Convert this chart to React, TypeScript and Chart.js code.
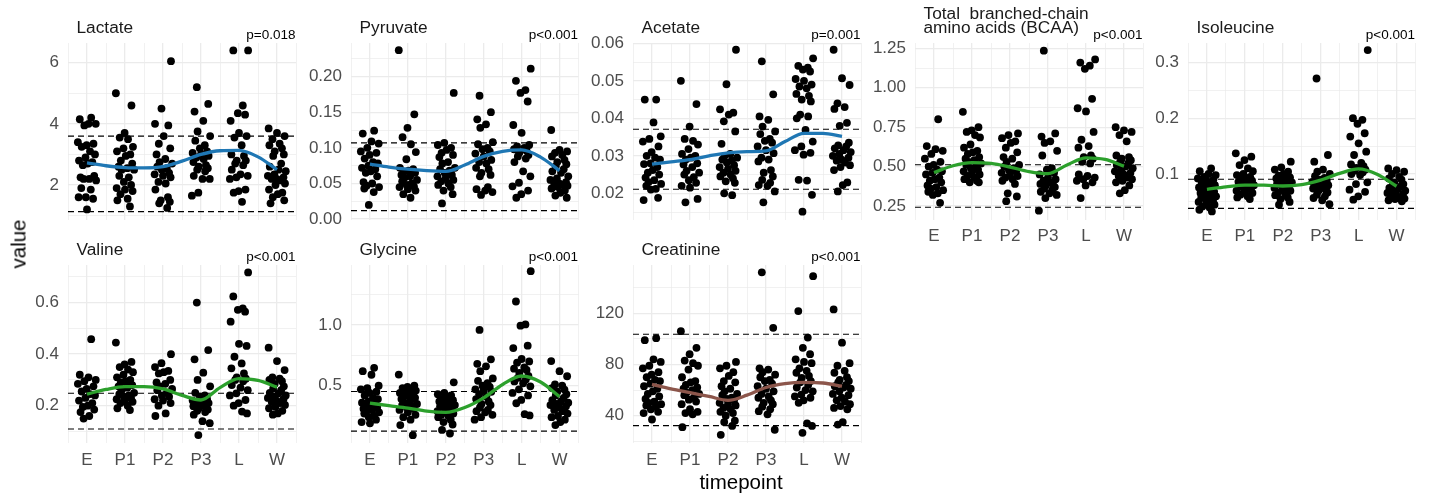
import React, { useEffect, useRef } from "react";
import { Chart, registerables } from "chart.js";
Chart.register(...registerables);

const FONT = '"Liberation Sans", Arial, Helvetica, sans-serif';
const BLUE = "#1f77b4";
const GREEN = "#2ca02c";
const BROWN = "#8c564b";

const TIMEPOINTS = ["E", "P1", "P2", "P3", "L", "W"];
const SMOOTH_X = [1, 1.5, 2, 2.5, 3, 3.5, 4, 4.5, 5, 5.5, 6];
const X_GRID = [0.5, 1, 1.5, 2, 2.5, 3, 3.5, 4, 4.5, 5, 5.5, 6, 6.5];
const JITTER = [0.11, -0.19, 0.04, 0.23, -0.07, -0.24, 0.17, -0.01, -0.14, 0.08, 0.21, -0.04, -0.21, 0.14, 0.02, -0.11, 0.19, -0.17, 0.06, -0.09, 0.24, -0.15, 0.1, -0.03, 0.16, -0.22, 0.0, 0.2, -0.12, 0.07, -0.2, 0.13, -0.06, 0.18, -0.1];

// ---------- Lactate ----------
const LACTATE_VALUES = [
  [4.2, 4.15, 4.0, 4.0, 3.95, 3.4, 3.35, 3.3, 3.25, 3.1, 3.0, 2.9, 2.8, 2.75, 2.7, 2.65, 2.3, 2.25, 2.2, 2.2, 2.15, 1.9, 1.85, 1.6, 1.55, 1.6, 1.2],
  [5.0, 4.6, 3.7, 3.55, 3.5, 3.25, 3.2, 3.1, 3.0, 2.95, 2.8, 2.7, 2.6, 2.55, 2.5, 2.5, 2.3, 2.25, 2.1, 2.0, 1.9, 1.85, 1.8, 1.7, 1.55, 1.5, 1.3],
  [6.05, 4.5, 4.0, 3.95, 3.6, 3.35, 3.2, 3.0, 2.85, 2.75, 2.7, 2.6, 2.55, 2.5, 2.4, 2.35, 2.3, 2.25, 2.1, 2.05, 1.85, 1.6, 1.5, 1.45, 1.4, 1.25],
  [5.2, 4.65, 4.4, 4.1, 3.75, 3.6, 3.45, 3.3, 3.2, 3.1, 3.05, 3.0, 2.95, 2.9, 2.85, 2.75, 2.65, 2.6, 2.55, 2.5, 2.45, 2.3, 2.2, 2.2, 1.75, 1.65],
  [6.4, 6.4, 4.6, 4.35, 4.3, 4.1, 3.7, 3.6, 3.55, 3.3, 3.0, 2.95, 2.8, 2.8, 2.7, 2.65, 2.5, 2.35, 2.3, 2.25, 2.2, 1.85, 1.8, 1.75, 1.45],
  [3.85, 3.7, 3.6, 3.5, 3.35, 3.3, 3.2, 3.1, 3.0, 2.95, 2.7, 2.6, 2.5, 2.45, 2.35, 2.3, 2.25, 2.2, 2.2, 2.15, 2.05, 2.0, 1.85, 1.75, 1.7, 1.6, 1.5, 1.4],
];
const LACTATE_SMOOTH = [2.72, 2.63, 2.57, 2.56, 2.6, 2.78, 3.0, 3.12, 3.13, 2.92, 2.5];
const LACTATE_REF = [3.6, 1.13];
const LACTATE_TICKS = [2, 4, 6];
const LACTATE_TICK_LABELS = ["2", "4", "6"];
const LACTATE_MINOR = [1, 3, 5];

// ---------- Pyruvate ----------
const PYRUVATE_VALUES = [
  [0.124, 0.12, 0.109, 0.106, 0.1, 0.095, 0.093, 0.09, 0.085, 0.08, 0.078, 0.075, 0.072, 0.07, 0.067, 0.065, 0.06, 0.052, 0.05, 0.047, 0.045, 0.043, 0.038, 0.02],
  [0.237, 0.147, 0.128, 0.115, 0.105, 0.094, 0.084, 0.072, 0.07, 0.068, 0.066, 0.065, 0.062, 0.06, 0.058, 0.055, 0.053, 0.05, 0.048, 0.046, 0.045, 0.042, 0.04, 0.035, 0.03],
  [0.177, 0.107, 0.104, 0.1, 0.097, 0.093, 0.09, 0.087, 0.08, 0.078, 0.072, 0.07, 0.068, 0.065, 0.062, 0.06, 0.058, 0.055, 0.053, 0.05, 0.048, 0.045, 0.04, 0.035, 0.022],
  [0.173, 0.15, 0.14, 0.133, 0.128, 0.108, 0.105, 0.1, 0.098, 0.095, 0.092, 0.088, 0.083, 0.08, 0.078, 0.072, 0.07, 0.065, 0.062, 0.06, 0.045, 0.042, 0.04, 0.038, 0.034],
  [0.211, 0.194, 0.181, 0.177, 0.165, 0.132, 0.121, 0.104, 0.102, 0.1, 0.098, 0.096, 0.093, 0.09, 0.088, 0.085, 0.08, 0.067, 0.06, 0.051, 0.046, 0.04, 0.035, 0.03],
  [0.125, 0.097, 0.095, 0.093, 0.09, 0.088, 0.083, 0.08, 0.077, 0.074, 0.07, 0.067, 0.065, 0.06, 0.057, 0.055, 0.052, 0.05, 0.05, 0.048, 0.047, 0.045, 0.043, 0.04, 0.037, 0.033, 0.03],
];
const PYRUVATE_SMOOTH = [0.077, 0.073, 0.07, 0.068, 0.067, 0.076, 0.088, 0.095, 0.097, 0.087, 0.068];
const PYRUVATE_REF = [0.107, 0.012];
const PYRUVATE_TICKS = [0, 0.05, 0.1, 0.15, 0.2];
const PYRUVATE_TICK_LABELS = ["0.00", "0.05", "0.10", "0.15", "0.20"];
const PYRUVATE_MINOR = [0.025, 0.075, 0.125, 0.175, 0.225];

// ---------- Acetate ----------
const ACETATE_VALUES = [
  [0.045, 0.045, 0.0389, 0.0352, 0.0345, 0.0338, 0.0325, 0.031, 0.03, 0.0295, 0.029, 0.028, 0.0278, 0.027, 0.0262, 0.0255, 0.025, 0.0242, 0.0235, 0.023, 0.0225, 0.022, 0.0212, 0.021, 0.0188, 0.0182],
  [0.05, 0.0438, 0.0378, 0.0345, 0.034, 0.033, 0.0318, 0.0305, 0.03, 0.0295, 0.029, 0.028, 0.0277, 0.027, 0.026, 0.0255, 0.025, 0.0243, 0.0235, 0.0228, 0.022, 0.0215, 0.0185, 0.0176],
  [0.0583, 0.0491, 0.0424, 0.0415, 0.041, 0.0392, 0.0365, 0.0332, 0.0305, 0.03, 0.0295, 0.029, 0.0288, 0.0282, 0.0275, 0.027, 0.0265, 0.026, 0.0255, 0.025, 0.0245, 0.024, 0.0232, 0.0228, 0.02, 0.0195],
  [0.0552, 0.0464, 0.0405, 0.0396, 0.0378, 0.0365, 0.0358, 0.0345, 0.034, 0.0335, 0.0325, 0.0315, 0.0307, 0.0295, 0.029, 0.0285, 0.0262, 0.0255, 0.0245, 0.0236, 0.0228, 0.0222, 0.022, 0.0205, 0.0176],
  [0.056, 0.054, 0.0535, 0.053, 0.0525, 0.0505, 0.05, 0.049, 0.0485, 0.048, 0.0465, 0.046, 0.045, 0.0445, 0.041, 0.0405, 0.04, 0.0369, 0.0338, 0.0325, 0.0315, 0.0308, 0.0303, 0.0236, 0.0234, 0.0196, 0.0151],
  [0.0583, 0.0507, 0.0489, 0.044, 0.043, 0.0425, 0.0388, 0.038, 0.0335, 0.0328, 0.0325, 0.032, 0.0315, 0.031, 0.0305, 0.03, 0.0295, 0.029, 0.0287, 0.0282, 0.0275, 0.027, 0.0262, 0.0229, 0.0222, 0.0205],
];
const ACETATE_SMOOTH = [0.0278, 0.0284, 0.029, 0.03, 0.0308, 0.0311, 0.0313, 0.0338, 0.036, 0.036, 0.0352];
const ACETATE_REF = [0.0371, 0.0211];
const ACETATE_TICKS = [0.02, 0.03, 0.04, 0.05, 0.06];
const ACETATE_TICK_LABELS = ["0.02", "0.03", "0.04", "0.05", "0.06"];
const ACETATE_MINOR = [0.015, 0.025, 0.035, 0.045, 0.055];

// ---------- BCAA ----------
const BCAA_VALUES = [
  [0.8, 0.63, 0.61, 0.6, 0.58, 0.55, 0.53, 0.51, 0.5, 0.48, 0.47, 0.46, 0.45, 0.43, 0.42, 0.41, 0.4, 0.38, 0.37, 0.36, 0.35, 0.34, 0.33, 0.32, 0.27],
  [0.847, 0.75, 0.73, 0.72, 0.7, 0.685, 0.64, 0.62, 0.6, 0.59, 0.58, 0.56, 0.55, 0.54, 0.53, 0.52, 0.51, 0.5, 0.49, 0.48, 0.47, 0.46, 0.45, 0.44, 0.43, 0.42, 0.41, 0.4, 0.4],
  [0.71, 0.7, 0.68, 0.66, 0.65, 0.62, 0.59, 0.56, 0.55, 0.53, 0.51, 0.5, 0.49, 0.48, 0.47, 0.46, 0.45, 0.44, 0.43, 0.42, 0.41, 0.39, 0.33, 0.31, 0.28],
  [1.235, 0.71, 0.69, 0.66, 0.65, 0.6, 0.57, 0.49, 0.48, 0.46, 0.45, 0.43, 0.42, 0.41, 0.4, 0.39, 0.385, 0.38, 0.37, 0.36, 0.35, 0.34, 0.33, 0.32, 0.3, 0.22],
  [1.18, 1.16, 1.14, 1.12, 0.93, 0.87, 0.85, 0.72, 0.67, 0.63, 0.62, 0.57, 0.56, 0.55, 0.53, 0.52, 0.45, 0.44, 0.43, 0.42, 0.41, 0.4, 0.38, 0.3],
  [0.75, 0.73, 0.72, 0.7, 0.66, 0.57, 0.56, 0.55, 0.54, 0.53, 0.52, 0.51, 0.5, 0.49, 0.48, 0.47, 0.46, 0.45, 0.44, 0.43, 0.42, 0.41, 0.4, 0.38, 0.35, 0.33],
];
const BCAA_SMOOTH = [0.462, 0.505, 0.525, 0.52, 0.497, 0.468, 0.455, 0.51, 0.555, 0.545, 0.503];
const BCAA_REF = [0.511, 0.242];
const BCAA_TICKS = [0.25, 0.5, 0.75, 1.0, 1.25];
const BCAA_TICK_LABELS = ["0.25", "0.50", "0.75", "1.00", "1.25"];
const BCAA_MINOR = [0.375, 0.625, 0.875, 1.125];

// ---------- Isoleucine ----------
const ISOLEUCINE_VALUES = [
  [0.11, 0.105, 0.1, 0.098, 0.095, 0.092, 0.09, 0.088, 0.085, 0.083, 0.08, 0.078, 0.076, 0.074, 0.072, 0.07, 0.068, 0.066, 0.064, 0.062, 0.06, 0.058, 0.056, 0.054, 0.052, 0.05, 0.048, 0.045, 0.042, 0.04, 0.036, 0.033],
  [0.137, 0.131, 0.125, 0.116, 0.11, 0.105, 0.1, 0.098, 0.095, 0.092, 0.09, 0.088, 0.086, 0.084, 0.082, 0.08, 0.078, 0.076, 0.074, 0.072, 0.07, 0.068, 0.066, 0.063, 0.06, 0.058, 0.055],
  [0.122, 0.112, 0.108, 0.104, 0.1, 0.097, 0.094, 0.092, 0.09, 0.087, 0.085, 0.083, 0.081, 0.079, 0.077, 0.075, 0.072, 0.07, 0.067, 0.065, 0.062, 0.058, 0.055, 0.05, 0.045],
  [0.271, 0.134, 0.122, 0.108, 0.104, 0.1, 0.096, 0.093, 0.09, 0.088, 0.086, 0.083, 0.08, 0.078, 0.076, 0.074, 0.072, 0.07, 0.067, 0.063, 0.06, 0.057, 0.053, 0.046],
  [0.322, 0.2, 0.197, 0.19, 0.173, 0.167, 0.155, 0.14, 0.134, 0.12, 0.117, 0.114, 0.111, 0.108, 0.106, 0.103, 0.1, 0.098, 0.085, 0.082, 0.072, 0.068, 0.06, 0.054],
  [0.11, 0.107, 0.104, 0.1, 0.095, 0.092, 0.09, 0.085, 0.082, 0.08, 0.078, 0.075, 0.073, 0.07, 0.068, 0.066, 0.064, 0.062, 0.06, 0.058, 0.056, 0.055, 0.053, 0.051],
];
const ISOLEUCINE_SMOOTH = [0.0725, 0.077, 0.08, 0.08, 0.0785, 0.081, 0.089, 0.101, 0.109, 0.099, 0.078];
const ISOLEUCINE_REF = [0.0905, 0.0385];
const ISOLEUCINE_TICKS = [0.1, 0.2, 0.3];
const ISOLEUCINE_TICK_LABELS = ["0.1", "0.2", "0.3"];
const ISOLEUCINE_MINOR = [0.05, 0.15, 0.25];

// ---------- Valine ----------
const VALINE_VALUES = [
  [0.458, 0.32, 0.31, 0.3, 0.295, 0.285, 0.275, 0.265, 0.255, 0.245, 0.24, 0.23, 0.22, 0.21, 0.2, 0.195, 0.185, 0.175, 0.16, 0.15],
  [0.445, 0.37, 0.36, 0.35, 0.34, 0.33, 0.32, 0.31, 0.3, 0.295, 0.29, 0.28, 0.275, 0.27, 0.26, 0.25, 0.245, 0.24, 0.235, 0.23, 0.225, 0.22, 0.215, 0.21, 0.2, 0.19, 0.183],
  [0.4, 0.365, 0.35, 0.335, 0.33, 0.325, 0.3, 0.29, 0.285, 0.275, 0.265, 0.26, 0.25, 0.24, 0.235, 0.225, 0.22, 0.21, 0.2, 0.17, 0.16],
  [0.6, 0.416, 0.38, 0.328, 0.3, 0.275, 0.25, 0.24, 0.235, 0.225, 0.22, 0.215, 0.21, 0.205, 0.2, 0.198, 0.195, 0.19, 0.185, 0.18, 0.175, 0.165, 0.14, 0.132, 0.086],
  [0.717, 0.624, 0.578, 0.572, 0.565, 0.526, 0.44, 0.432, 0.39, 0.364, 0.345, 0.325, 0.31, 0.305, 0.3, 0.295, 0.28, 0.27, 0.26, 0.248, 0.24, 0.222, 0.21, 0.2, 0.177, 0.17],
  [0.425, 0.373, 0.338, 0.31, 0.305, 0.3, 0.295, 0.285, 0.275, 0.267, 0.26, 0.25, 0.248, 0.24, 0.235, 0.23, 0.225, 0.22, 0.215, 0.21, 0.203, 0.195, 0.19, 0.18, 0.17, 0.165],
];
const VALINE_SMOOTH = [0.245, 0.263, 0.274, 0.274, 0.265, 0.24, 0.222, 0.27, 0.305, 0.298, 0.272];
const VALINE_REF = [0.248, 0.1095];
const VALINE_TICKS = [0.2, 0.4, 0.6];
const VALINE_TICK_LABELS = ["0.2", "0.4", "0.6"];
const VALINE_MINOR = [0.1, 0.3, 0.5, 0.7];

// ---------- Glycine ----------
const GLYCINE_VALUES = [
  [0.647, 0.62, 0.59, 0.5, 0.48, 0.47, 0.45, 0.44, 0.42, 0.4, 0.39, 0.37, 0.36, 0.35, 0.34, 0.33, 0.32, 0.31, 0.3, 0.29, 0.28, 0.27, 0.25, 0.24, 0.22, 0.2, 0.19],
  [0.592, 0.5, 0.49, 0.48, 0.47, 0.46, 0.45, 0.44, 0.43, 0.42, 0.41, 0.4, 0.39, 0.37, 0.36, 0.35, 0.34, 0.33, 0.32, 0.31, 0.3, 0.28, 0.26, 0.24, 0.22, 0.175, 0.092],
  [0.528, 0.44, 0.43, 0.42, 0.4, 0.39, 0.38, 0.37, 0.36, 0.35, 0.34, 0.33, 0.32, 0.31, 0.3, 0.29, 0.28, 0.27, 0.26, 0.25, 0.24, 0.22, 0.2, 0.18, 0.135, 0.106],
  [0.96, 0.717, 0.68, 0.66, 0.62, 0.56, 0.54, 0.52, 0.5, 0.49, 0.47, 0.46, 0.45, 0.43, 0.41, 0.39, 0.37, 0.35, 0.34, 0.32, 0.3, 0.29, 0.28, 0.26, 0.24, 0.22],
  [1.444, 1.194, 1.005, 0.995, 0.83, 0.81, 0.72, 0.7, 0.69, 0.65, 0.64, 0.63, 0.605, 0.58, 0.565, 0.55, 0.535, 0.52, 0.495, 0.47, 0.44, 0.42, 0.383, 0.355, 0.265, 0.255],
  [0.703, 0.62, 0.578, 0.51, 0.5, 0.48, 0.468, 0.45, 0.43, 0.42, 0.4, 0.38, 0.37, 0.36, 0.35, 0.34, 0.33, 0.32, 0.3, 0.29, 0.27, 0.25, 0.24, 0.22, 0.2, 0.175],
];
const GLYCINE_SMOOTH = [0.356, 0.335, 0.315, 0.29, 0.28, 0.32, 0.4, 0.51, 0.58, 0.53, 0.41];
const GLYCINE_REF = [0.4525, 0.125];
const GLYCINE_TICKS = [0.5, 1.0];
const GLYCINE_TICK_LABELS = ["0.5", "1.0"];
const GLYCINE_MINOR = [0.25, 0.75, 1.25];

// ---------- Creatinine ----------
const CREATININE_VALUES = [
  [100.5, 99, 84, 82, 79, 77, 74, 72, 70, 68, 67, 65, 63, 61, 59, 57, 55, 53, 51, 50, 49, 48, 47, 45, 43, 42, 37],
  [106, 93, 88, 83, 81, 79, 76, 70, 67, 66, 64, 62, 61, 60, 58, 57, 56, 54, 52.5, 51, 49, 45, 43, 42, 41, 31],
  [82, 79, 77, 74, 71, 67, 66, 63, 61, 59, 57, 56, 54, 53, 52, 50, 49, 48, 46, 45, 43, 42, 40, 36, 35, 32, 25],
  [152, 108.6, 77, 76, 74, 72, 70, 68, 67, 65, 63, 61, 59, 57, 55, 54, 52, 50, 49, 47, 45, 43.5, 41, 29],
  [149, 121.7, 101, 93, 88, 84, 82, 81, 77, 75, 73.5, 71, 69.5, 67, 66, 64, 62, 60, 59, 56.5, 55, 54, 52, 50, 34, 32, 26.6],
  [123, 97, 81, 79, 75, 73.5, 70, 68, 67, 66, 64, 63, 62, 61, 59, 57, 56, 54, 52, 51, 49, 47.5, 46, 45, 35, 33],
];
const CREATININE_SMOOTH = [64.5, 61, 58, 55, 52, 56, 62, 65, 66, 65.5, 63];
const CREATININE_REF = [103.6, 32.2];
const CREATININE_TICKS = [40, 80, 120];
const CREATININE_TICK_LABELS = ["40", "80", "120"];
const CREATININE_MINOR = [20, 60, 100, 140];

type Box = { l: number; t: number; r: number; b: number };
type PanelDef = {
  title: string[];
  p: string;
  values: number[][];
  smooth: number[];
  refs: number[];
  ticks: number[];
  tickLabels: string[];
  minor: number[];
  yMin: number;
  yMax: number;
  color: string;
  showX: boolean;
  box: Box;
};

const ROW1 = { t: 43, b: 219.5 };
const ROW2 = { t: 265, b: 443.3 };

const PANELS: PanelDef[] = [
  { title: ["Lactate"], p: "p=0.018", values: LACTATE_VALUES, smooth: LACTATE_SMOOTH, refs: LACTATE_REF, ticks: LACTATE_TICKS, tickLabels: LACTATE_TICK_LABELS, minor: LACTATE_MINOR, yMin: 0.872, yMax: 6.644, color: BLUE, showX: false, box: { l: 68, r: 296, ...ROW1 } },
  { title: ["Pyruvate"], p: "p<0.001", values: PYRUVATE_VALUES, smooth: PYRUVATE_SMOOTH, refs: PYRUVATE_REF, ticks: PYRUVATE_TICKS, tickLabels: PYRUVATE_TICK_LABELS, minor: PYRUVATE_MINOR, yMin: -0.0005, yMax: 0.247, color: BLUE, showX: false, box: { l: 351, r: 578.5, ...ROW1 } },
  { title: ["Acetate"], p: "p=0.001", values: ACETATE_VALUES, smooth: ACETATE_SMOOTH, refs: ACETATE_REF, ticks: ACETATE_TICKS, tickLabels: ACETATE_TICK_LABELS, minor: ACETATE_MINOR, yMin: 0.01301, yMax: 0.0601, color: BLUE, showX: false, box: { l: 633, r: 861, ...ROW1 } },
  { title: ["Total  branched-chain", "amino acids (BCAA)"], p: "p<0.001", values: BCAA_VALUES, smooth: BCAA_SMOOTH, refs: BCAA_REF, ticks: BCAA_TICKS, tickLabels: BCAA_TICK_LABELS, minor: BCAA_MINOR, yMin: 0.164, yMax: 1.284, color: GREEN, showX: true, box: { l: 915, r: 1143, ...ROW1 } },
  { title: ["Isoleucine"], p: "p<0.001", values: ISOLEUCINE_VALUES, smooth: ISOLEUCINE_SMOOTH, refs: ISOLEUCINE_REF, ticks: ISOLEUCINE_TICKS, tickLabels: ISOLEUCINE_TICK_LABELS, minor: ISOLEUCINE_MINOR, yMin: 0.0185, yMax: 0.3346, color: GREEN, showX: true, box: { l: 1188, r: 1415.5, ...ROW1 } },
  { title: ["Valine"], p: "p<0.001", values: VALINE_VALUES, smooth: VALINE_SMOOTH, refs: VALINE_REF, ticks: VALINE_TICKS, tickLabels: VALINE_TICK_LABELS, minor: VALINE_MINOR, yMin: 0.054, yMax: 0.746, color: GREEN, showX: true, box: { l: 68, r: 296, ...ROW2 } },
  { title: ["Glycine"], p: "p<0.001", values: GLYCINE_VALUES, smooth: GLYCINE_SMOOTH, refs: GLYCINE_REF, ticks: GLYCINE_TICKS, tickLabels: GLYCINE_TICK_LABELS, minor: GLYCINE_MINOR, yMin: 0.025, yMax: 1.495, color: GREEN, showX: true, box: { l: 351, r: 578.5, ...ROW2 } },
  { title: ["Creatinine"], p: "p<0.001", values: CREATININE_VALUES, smooth: CREATININE_SMOOTH, refs: CREATININE_REF, ticks: CREATININE_TICKS, tickLabels: CREATININE_TICK_LABELS, minor: CREATININE_MINOR, yMin: 18.4, yMax: 157.7, color: BROWN, showX: true, box: { l: 633, r: 861, ...ROW2 } },
];

const PAD_L = 66;
const PAD_T = 46;
const AXIS_H = 30;
const PAD_R = 8;

function near(a: number, list: number[]) {
  return list.findIndex((m) => Math.abs(m - a) < 1e-9);
}

function Panel({ def }: { def: PanelDef }) {
  const ref = useRef<HTMLCanvasElement>(null);
  const { box } = def;
  const w = box.r - box.l;
  const h = box.b - box.t;
  const cw = Math.ceil(PAD_L + w + PAD_R);
  const ch = Math.ceil(PAD_T + h + AXIS_H + 2);
  const left = box.l - PAD_L;
  const top = box.t - PAD_T;

  useEffect(() => {
    if (!ref.current) return;
    const points: { x: number; y: number }[] = [];
    def.values.forEach((grp, g) => {
      grp.forEach((v, i) => {
        points.push({ x: g + 1 + JITTER[(i + g * 5) % JITTER.length], y: v });
      });
    });
    const yGrid = [...def.ticks, ...def.minor].filter((v) => v >= def.yMin && v <= def.yMax).sort((a, b) => a - b);

    const textPlugin = {
      id: "panelText",
      afterDraw(chart: any) {
        const ctx = chart.ctx;
        const a = chart.chartArea;
        ctx.save();
        ctx.fillStyle = "#1a1a1a";
        ctx.font = `17.3px ${FONT}`;
        ctx.textAlign = "left";
        ctx.textBaseline = "alphabetic";
        const n = def.title.length;
        def.title.forEach((line, i) => {
          ctx.fillText(line, a.left + 8.5, a.top - 10.5 - (n - 1 - i) * 13.5);
        });
        ctx.fillStyle = "#000";
        ctx.font = `13.5px ${FONT}`;
        ctx.textAlign = "right";
        ctx.fillText(def.p, a.right - 0.5, a.top - 4.5);
        ctx.restore();
      },
    };

    const chart = new Chart(ref.current, {
      type: "scatter",
      data: {
        datasets: [
          {
            type: "line",
            data: SMOOTH_X.map((x, i) => ({ x, y: def.smooth[i] })),
            borderColor: def.color,
            borderWidth: 3.3,
            pointRadius: 0,
            cubicInterpolationMode: "monotone",
            fill: false,
            order: 0,
          } as any,
          {
            type: "scatter",
            data: points,
            backgroundColor: "#000",
            borderWidth: 0,
            pointRadius: 3.9,
            order: 1,
          } as any,
          ...def.refs.map(
            (r) =>
              ({
                type: "line",
                data: [
                  { x: 0.5, y: r },
                  { x: 6.5, y: r },
                ],
                borderColor: "#000",
                borderWidth: 1.1,
                borderDash: [6, 4],
                pointRadius: 0,
                fill: false,
                order: 2,
              } as any)
          ),
        ],
      },
      options: {
        animation: false,
        responsive: false,
        maintainAspectRatio: false,
        events: [],
        layout: {
          padding: { left: 0, top: PAD_T, right: cw - PAD_L - w, bottom: ch - PAD_T - h - AXIS_H },
        },
        plugins: { legend: { display: false }, tooltip: { enabled: false }, title: { display: false } },
        scales: {
          x: {
            type: "linear",
            min: 0.5,
            max: 6.5,
            afterBuildTicks: (s: any) => {
              s.ticks = X_GRID.map((v) => ({ value: v }));
            },
            afterFit: (s: any) => {
              s.height = AXIS_H;
            },
            border: { display: false },
            grid: {
              color: "#ebebeb",
              lineWidth: (c: any) => (c.tick && Number.isInteger(c.tick.value) ? 1.3 : 0.7),
              drawTicks: false,
            },
            ticks: {
              display: def.showX,
              autoSkip: false,
              maxRotation: 0,
              padding: 7,
              color: "#4d4d4d",
              font: { family: FONT, size: 17 },
              callback: (v: any) => (Number.isInteger(v) ? TIMEPOINTS[v - 1] : ""),
            },
          },
          y: {
            type: "linear",
            min: def.yMin,
            max: def.yMax,
            afterBuildTicks: (s: any) => {
              s.ticks = yGrid.map((v) => ({ value: v }));
            },
            afterFit: (s: any) => {
              s.width = PAD_L;
            },
            border: { display: false },
            grid: {
              color: "#ebebeb",
              lineWidth: (c: any) => (c.tick && near(c.tick.value, def.ticks) >= 0 ? 1.3 : 0.7),
              drawTicks: false,
            },
            ticks: {
              autoSkip: false,
              padding: 9,
              color: "#4d4d4d",
              font: { family: FONT, size: 17 },
              callback: (v: any) => {
                const k = near(Number(v), def.ticks);
                return k >= 0 ? def.tickLabels[k] : "";
              },
            },
          },
        },
      },
      plugins: [textPlugin],
    } as any);
    return () => chart.destroy();
  }, []);

  return (
    <canvas
      ref={ref}
      width={cw}
      height={ch}
      style={{ position: "absolute", left, top, width: cw, height: ch }}
    />
  );
}

export default function App() {
  return (
    <div
      style={{
        position: "absolute",
        left: 0,
        top: 0,
        width: 1429,
        height: 496,
        background: "#fff",
        overflow: "hidden",
        fontFamily: FONT,
      }}
    >
      {PANELS.map((p, i) => (
        <Panel key={i} def={p} />
      ))}
      <div
        style={{
          position: "absolute",
          left: 17.5,
          top: 244,
          transform: "translate(-50%, -50%) rotate(-90deg)",
          fontSize: 20.5,
          lineHeight: "21px",
          color: "#000",
          whiteSpace: "nowrap",
        }}
      >
        value
      </div>
      <div
        style={{
          position: "absolute",
          left: 741,
          top: 472,
          transform: "translateX(-50%)",
          fontSize: 20.5,
          lineHeight: "20px",
          color: "#000",
          whiteSpace: "nowrap",
        }}
      >
        timepoint
      </div>
    </div>
  );
}
